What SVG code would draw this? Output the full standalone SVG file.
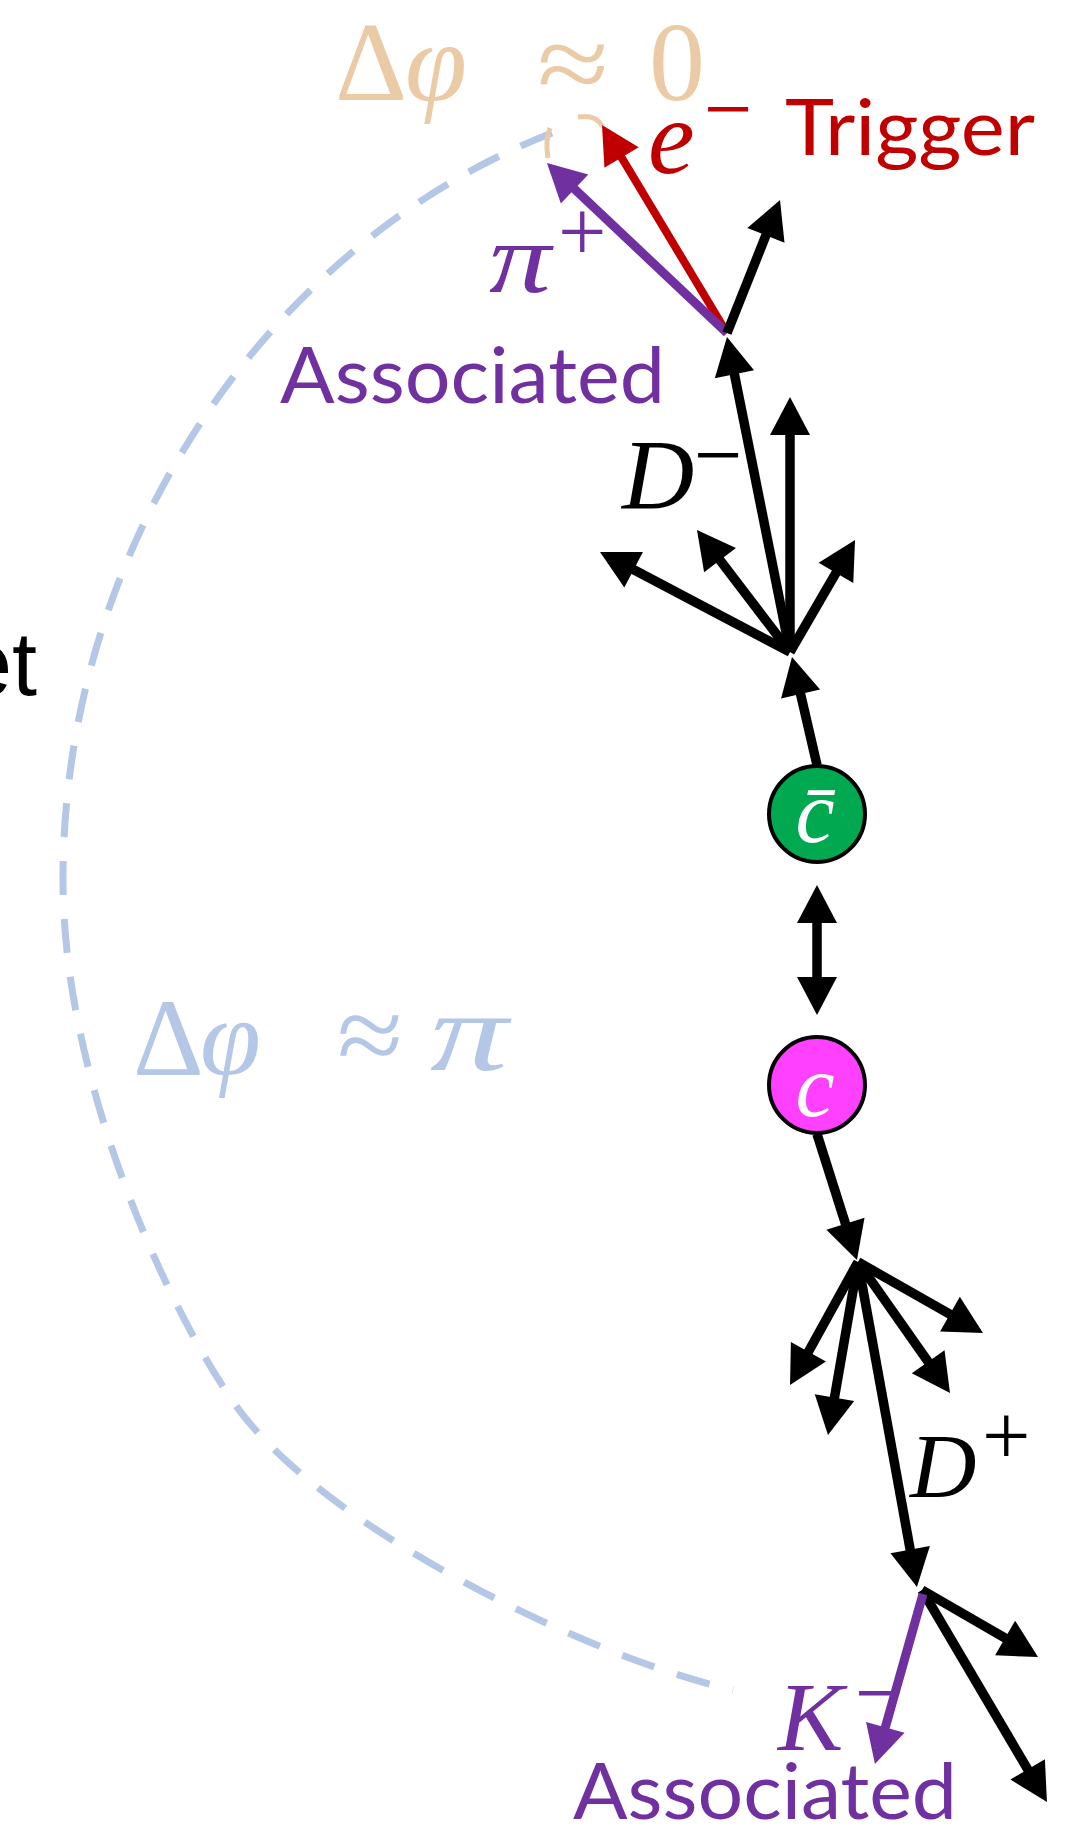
<svg xmlns="http://www.w3.org/2000/svg" width="1077" height="1833" viewBox="0 0 1077 1833">
<style>
.math{font-family:"Liberation Serif","DejaVu Serif",serif;}
.it{font-style:italic;}
.lbl{font-family:Lato,"Liberation Sans",sans-serif;}
.k{stroke:#000;stroke-width:9.5;fill:none;}
.r{stroke:#C00000;stroke-width:8;fill:none;}
.p{stroke:#7030A0;stroke-width:9;fill:none;}
</style>
<defs>
<marker id="ahk" markerUnits="userSpaceOnUse" markerWidth="38" markerHeight="40" refX="18" refY="20" orient="auto" overflow="visible"><path d="M0,0 L38,20 L0,40 z" fill="#000"/></marker>
<marker id="ahk2" markerUnits="userSpaceOnUse" markerWidth="38" markerHeight="40" refX="18" refY="20" orient="auto-start-reverse" overflow="visible"><path d="M0,0 L38,20 L0,40 z" fill="#000"/></marker>
<marker id="ahr" markerUnits="userSpaceOnUse" markerWidth="38" markerHeight="40" refX="18" refY="20" orient="auto" overflow="visible"><path d="M0,0 L38,20 L0,40 z" fill="#C00000"/></marker>
<marker id="ahp" markerUnits="userSpaceOnUse" markerWidth="38" markerHeight="40" refX="18" refY="20" orient="auto" overflow="visible"><path d="M0,0 L38,20 L0,40 z" fill="#7030A0"/></marker>
</defs>
<rect width="1077" height="1833" fill="#fff"/>

<g id="arc-away">
<path d="M552,133 C273,241 63,540 63,880 C63,1080 165.6,1304.6 234,1403 C319.5,1526 586.8,1657 733,1690" fill="none" stroke="#B4C7E7" stroke-width="7" stroke-dasharray="34 24"/>
</g>
<g id="arc-near" fill="none" stroke="#EBCBA6" stroke-width="5">
<path d="M548,158 Q545,140 550,128"/>
<path d="M578,117 Q596,114 602,126"/>
</g>

<g id="label-dphi0" class="math" fill="#EBCBA6">
<text x="335" y="100" font-size="112">Δ<tspan x="405" class="it">φ</tspan></text>
<text x="537" y="100" font-size="108" textLength="72" lengthAdjust="spacingAndGlyphs">≈</text>
<text x="649" y="100" font-size="112">0</text>
</g>
<g id="label-dphipi" class="math" fill="#B4C7E7">
<text x="133" y="1075" font-size="110">Δ<tspan x="200" class="it">φ</tspan></text>
<text x="337" y="1072" font-size="110" textLength="66" lengthAdjust="spacingAndGlyphs">≈</text>
<text x="430" y="1070" font-size="112" class="it" textLength="78" lengthAdjust="spacingAndGlyphs">π</text>
</g>
<g id="label-jet">
<text x="-38" y="695" font-family="Liberation Sans,Arial,sans-serif" font-size="90" fill="#000">et</text>
</g>

<g id="connectors">
<line class="r" x1="727" y1="333" x2="612.3" y2="142.1" marker-end="url(#ahr)"/>
<line class="p" x1="727" y1="333" x2="561.5" y2="176.7" marker-end="url(#ahp)"/>
<line class="k" x1="727" y1="333" x2="772.6" y2="218.6" marker-end="url(#ahk)"/>
<line class="k" x1="790" y1="652" x2="730.9" y2="356.6" marker-end="url(#ahk)"/>
<line class="k" x1="790" y1="652" x2="790" y2="417" marker-end="url(#ahk)"/>
<line class="k" x1="790" y1="652" x2="617.7" y2="561.3" marker-end="url(#ahk)"/>
<line class="k" x1="790" y1="652" x2="709.1" y2="545.9" marker-end="url(#ahk)"/>
<line class="k" x1="790" y1="652" x2="845" y2="557.3" marker-end="url(#ahk)"/>
<line class="k" x1="817" y1="765" x2="796.5" y2="676.5" marker-end="url(#ahk)"/>
<line class="k" x1="817" y1="905" x2="817" y2="995" marker-start="url(#ahk2)" marker-end="url(#ahk2)"/>
<line class="k" x1="817" y1="1134" x2="850.9" y2="1240.9" marker-end="url(#ahk)"/>
<line class="k" x1="858" y1="1262" x2="799.7" y2="1367.5" marker-end="url(#ahk)"/>
<line class="k" x1="858" y1="1262" x2="831.4" y2="1415.3" marker-end="url(#ahk)"/>
<line class="k" x1="858" y1="1262" x2="938.5" y2="1376.6" marker-end="url(#ahk)"/>
<line class="k" x1="858" y1="1262" x2="965.6" y2="1323.1" marker-end="url(#ahk)"/>
<line class="k" x1="858" y1="1262" x2="913.4" y2="1567.3" marker-end="url(#ahk)"/>
<line class="k" x1="922" y1="1590" x2="1020.7" y2="1647" marker-end="url(#ahk)"/>
<line class="k" x1="922" y1="1590" x2="1036.8" y2="1784.8" marker-end="url(#ahk)"/>
<line class="p" x1="923" y1="1594" x2="880.4" y2="1744.7" marker-end="url(#ahp)"/>
</g>

<g id="node-cbar">
<circle cx="817" cy="814" r="48" fill="#00A84F" stroke="#000" stroke-width="4"/>
<text x="815" y="842" class="math it" font-size="88" fill="#fff" text-anchor="middle">c̄</text>
</g>
<g id="node-c">
<circle cx="817" cy="1085" r="48" fill="#FF40FF" stroke="#000" stroke-width="4"/>
<text x="815" y="1116" class="math it" font-size="88" fill="#fff" text-anchor="middle">c</text>
</g>

<g id="label-electron" fill="#C00000">
<text x="648" y="173" class="math it" font-size="105">e</text>
<text x="704" y="138" class="math" font-size="86">−</text>
<text x="785" y="155" class="lbl" font-size="77" textLength="250" lengthAdjust="spacingAndGlyphs">Trigger</text>
</g>
<g id="label-pion" fill="#7030A0">
<text x="489" y="292" class="math it" font-size="100" textLength="62" lengthAdjust="spacingAndGlyphs">π</text>
<text x="558" y="261" class="math" font-size="86">+</text>
<text x="280" y="403" class="lbl" font-size="78" textLength="385" lengthAdjust="spacingAndGlyphs">Associated</text>
</g>
<g id="label-Dminus" fill="#000">
<text x="622" y="508" class="math it" font-size="100">D</text>
<text x="694" y="484" class="math" font-size="86">−</text>
</g>
<g id="label-Dplus" fill="#000">
<text x="910" y="1497" class="math it" font-size="92">D</text>
<text x="982" y="1465" class="math" font-size="86">+</text>
</g>
<g id="label-kaon" fill="#7030A0">
<text x="778" y="1750" class="math it" font-size="98">K</text>
<text x="855" y="1722" class="math" font-size="86">−</text>
<text x="573" y="1819" class="lbl" font-size="78" textLength="384" lengthAdjust="spacingAndGlyphs">Associated</text>
</g>
</svg>
